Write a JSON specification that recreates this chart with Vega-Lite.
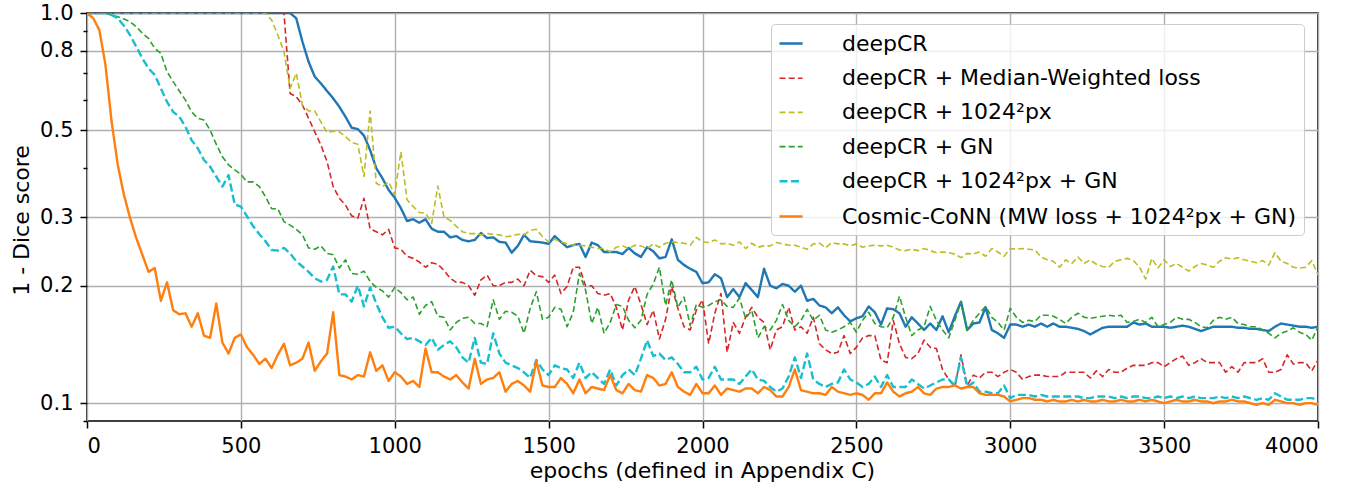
{
  "$schema": "https://vega.github.io/schema/vega-lite/v6.json",
  "width": 1231,
  "height": 408,
  "autosize": {"type": "none"},
  "padding": {"left": 87, "top": 13, "right": 42, "bottom": 62},
  "background": "white",
  "config": {
    "font": "DejaVu Sans",
    "view": {"stroke": "black", "strokeWidth": 1.6},
    "axis": {
      "labelFont": "DejaVu Sans", "labelFontSize": 21, "labelColor": "black",
      "titleFont": "DejaVu Sans", "titleFontSize": 22, "titleFontWeight": "normal", "titleColor": "black",
      "gridColor": "#b0b0b0", "gridWidth": 1.4, "domain": false,
      "tickColor": "black", "tickWidth": 1.5, "tickSize": 7, "labelPadding": 7
    }
  },
  "data": {"values": [
    {"epoch":0,"a":1,"b":1,"c":1,"d":1,"e":1,"f":1},
    {"epoch":20,"a":1,"b":1,"c":1,"d":1,"e":1,"f":0.97},
    {"epoch":40,"a":1,"b":1,"c":1,"d":1,"e":1,"f":0.905},
    {"epoch":60,"a":1,"b":1,"c":1,"d":1,"e":1,"f":0.736},
    {"epoch":80,"a":1,"b":1,"c":1,"d":0.988,"e":0.988,"f":0.526},
    {"epoch":100,"a":1,"b":1,"c":1,"d":0.978,"e":0.969,"f":0.408},
    {"epoch":120,"a":1,"b":1,"c":1,"d":0.965,"e":0.928,"f":0.342},
    {"epoch":140,"a":1,"b":1,"c":1,"d":0.95,"e":0.878,"f":0.298},
    {"epoch":160,"a":1,"b":1,"c":1,"d":0.922,"e":0.82,"f":0.265},
    {"epoch":180,"a":1,"b":1,"c":1,"d":0.887,"e":0.765,"f":0.24},
    {"epoch":200,"a":1,"b":1,"c":1,"d":0.861,"e":0.721,"f":0.217},
    {"epoch":220,"a":1,"b":1,"c":1,"d":0.812,"e":0.694,"f":0.222},
    {"epoch":240,"a":1,"b":1,"c":1,"d":0.788,"e":0.641,"f":0.183},
    {"epoch":260,"a":1,"b":1,"c":1,"d":0.707,"e":0.592,"f":0.204},
    {"epoch":280,"a":1,"b":1,"c":1,"d":0.667,"e":0.558,"f":0.173},
    {"epoch":300,"a":1,"b":1,"c":1,"d":0.631,"e":0.542,"f":0.169},
    {"epoch":320,"a":1,"b":1,"c":1,"d":0.598,"e":0.511,"f":0.17},
    {"epoch":340,"a":1,"b":1,"c":1,"d":0.558,"e":0.472,"f":0.157},
    {"epoch":360,"a":1,"b":1,"c":1,"d":0.537,"e":0.45,"f":0.17},
    {"epoch":380,"a":1,"b":1,"c":1,"d":0.532,"e":0.42,"f":0.149},
    {"epoch":400,"a":1,"b":1,"c":1,"d":0.501,"e":0.404,"f":0.147},
    {"epoch":420,"a":1,"b":1,"c":1,"d":0.461,"e":0.381,"f":0.18},
    {"epoch":440,"a":1,"b":1,"c":1,"d":0.428,"e":0.359,"f":0.143},
    {"epoch":460,"a":1,"b":1,"c":1,"d":0.408,"e":0.384,"f":0.134},
    {"epoch":480,"a":1,"b":1,"c":1,"d":0.396,"e":0.323,"f":0.147},
    {"epoch":500,"a":1,"b":1,"c":1,"d":0.386,"e":0.319,"f":0.15},
    {"epoch":520,"a":1,"b":1,"c":1,"d":0.369,"e":0.301,"f":0.139},
    {"epoch":540,"a":1,"b":1,"c":1,"d":0.369,"e":0.284,"f":0.133},
    {"epoch":560,"a":1,"b":1,"c":1,"d":0.359,"e":0.271,"f":0.126},
    {"epoch":580,"a":1,"b":1,"c":1,"d":0.338,"e":0.26,"f":0.13},
    {"epoch":600,"a":1,"b":1,"c":0.959,"d":0.315,"e":0.247,"f":0.123},
    {"epoch":620,"a":1,"b":1,"c":0.878,"d":0.315,"e":0.246,"f":0.133},
    {"epoch":640,"a":1,"b":1,"c":0.796,"d":0.292,"e":0.25,"f":0.142},
    {"epoch":660,"a":1,"b":0.622,"c":0.641,"d":0.286,"e":0.242,"f":0.125},
    {"epoch":680,"a":0.969,"b":0.61,"c":0.701,"d":0.279,"e":0.231,"f":0.127},
    {"epoch":700,"a":0.844,"b":0.581,"c":0.581,"d":0.27,"e":0.224,"f":0.13},
    {"epoch":720,"a":0.75,"b":0.537,"c":0.561,"d":0.25,"e":0.217,"f":0.143},
    {"epoch":740,"a":0.687,"b":0.496,"c":0.561,"d":0.248,"e":0.209,"f":0.121},
    {"epoch":760,"a":0.66,"b":0.459,"c":0.526,"d":0.253,"e":0.205,"f":0.128},
    {"epoch":780,"a":0.631,"b":0.416,"c":0.494,"d":0.242,"e":0.207,"f":0.134},
    {"epoch":800,"a":0.604,"b":0.359,"c":0.498,"d":0.24,"e":0.224,"f":0.171},
    {"epoch":820,"a":0.575,"b":0.335,"c":0.496,"d":0.222,"e":0.19,"f":0.118},
    {"epoch":840,"a":0.542,"b":0.322,"c":0.482,"d":0.233,"e":0.19,"f":0.117},
    {"epoch":860,"a":0.508,"b":0.302,"c":0.466,"d":0.215,"e":0.182,"f":0.115},
    {"epoch":880,"a":0.504,"b":0.298,"c":0.461,"d":0.214,"e":0.2,"f":0.118},
    {"epoch":900,"a":0.485,"b":0.335,"c":0.381,"d":0.218,"e":0.177,"f":0.117},
    {"epoch":920,"a":0.445,"b":0.28,"c":0.561,"d":0.205,"e":0.198,"f":0.135},
    {"epoch":940,"a":0.4,"b":0.275,"c":0.366,"d":0.198,"e":0.18,"f":0.121},
    {"epoch":960,"a":0.377,"b":0.27,"c":0.359,"d":0.194,"e":0.166,"f":0.125},
    {"epoch":980,"a":0.352,"b":0.279,"c":0.369,"d":0.187,"e":0.156,"f":0.114},
    {"epoch":1000,"a":0.336,"b":0.25,"c":0.343,"d":0.198,"e":0.157,"f":0.12},
    {"epoch":1020,"a":0.316,"b":0.248,"c":0.441,"d":0.192,"e":0.151,"f":0.117},
    {"epoch":1040,"a":0.293,"b":0.238,"c":0.332,"d":0.184,"e":0.146,"f":0.112},
    {"epoch":1060,"a":0.296,"b":0.235,"c":0.319,"d":0.187,"e":0.147,"f":0.114},
    {"epoch":1080,"a":0.29,"b":0.23,"c":0.308,"d":0.169,"e":0.144,"f":0.11},
    {"epoch":1100,"a":0.296,"b":0.223,"c":0.307,"d":0.178,"e":0.141,"f":0.138},
    {"epoch":1120,"a":0.28,"b":0.229,"c":0.289,"d":0.182,"e":0.147,"f":0.12},
    {"epoch":1140,"a":0.275,"b":0.227,"c":0.36,"d":0.167,"e":0.137,"f":0.12},
    {"epoch":1160,"a":0.275,"b":0.219,"c":0.3,"d":0.166,"e":0.141,"f":0.117},
    {"epoch":1180,"a":0.266,"b":0.209,"c":0.294,"d":0.154,"e":0.144,"f":0.115},
    {"epoch":1200,"a":0.268,"b":0.204,"c":0.284,"d":0.161,"e":0.139,"f":0.118},
    {"epoch":1220,"a":0.262,"b":0.204,"c":0.275,"d":0.165,"e":0.131,"f":0.113},
    {"epoch":1240,"a":0.26,"b":0.2,"c":0.272,"d":0.166,"e":0.127,"f":0.109},
    {"epoch":1260,"a":0.262,"b":0.189,"c":0.272,"d":0.16,"e":0.147,"f":0.13},
    {"epoch":1280,"a":0.273,"b":0.207,"c":0.27,"d":0.16,"e":0.127,"f":0.112},
    {"epoch":1300,"a":0.265,"b":0.213,"c":0.272,"d":0.157,"e":0.126,"f":0.115},
    {"epoch":1320,"a":0.266,"b":0.2,"c":0.271,"d":0.184,"e":0.151,"f":0.116},
    {"epoch":1340,"a":0.259,"b":0.2,"c":0.27,"d":0.164,"e":0.134,"f":0.12},
    {"epoch":1360,"a":0.258,"b":0.204,"c":0.267,"d":0.172,"e":0.127,"f":0.107},
    {"epoch":1380,"a":0.243,"b":0.204,"c":0.268,"d":0.171,"e":0.125,"f":0.112},
    {"epoch":1400,"a":0.253,"b":0.208,"c":0.271,"d":0.167,"e":0.123,"f":0.114},
    {"epoch":1420,"a":0.27,"b":0.2,"c":0.27,"d":0.151,"e":0.12,"f":0.111},
    {"epoch":1440,"a":0.26,"b":0.219,"c":0.277,"d":0.175,"e":0.116,"f":0.107},
    {"epoch":1460,"a":0.259,"b":0.212,"c":0.279,"d":0.193,"e":0.129,"f":0.128},
    {"epoch":1480,"a":0.258,"b":0.211,"c":0.267,"d":0.164,"e":0.122,"f":0.111},
    {"epoch":1500,"a":0.256,"b":0.204,"c":0.259,"d":0.166,"e":0.118,"f":0.11},
    {"epoch":1520,"a":0.268,"b":0.213,"c":0.263,"d":0.176,"e":0.125,"f":0.11},
    {"epoch":1540,"a":0.259,"b":0.191,"c":0.259,"d":0.174,"e":0.123,"f":0.116},
    {"epoch":1560,"a":0.251,"b":0.199,"c":0.256,"d":0.157,"e":0.122,"f":0.112},
    {"epoch":1580,"a":0.254,"b":0.223,"c":0.254,"d":0.171,"e":0.116,"f":0.106},
    {"epoch":1600,"a":0.256,"b":0.223,"c":0.254,"d":0.215,"e":0.127,"f":0.115},
    {"epoch":1620,"a":0.237,"b":0.2,"c":0.253,"d":0.195,"e":0.116,"f":0.106},
    {"epoch":1640,"a":0.258,"b":0.2,"c":0.251,"d":0.16,"e":0.12,"f":0.11},
    {"epoch":1660,"a":0.254,"b":0.191,"c":0.249,"d":0.176,"e":0.116,"f":0.109},
    {"epoch":1680,"a":0.244,"b":0.189,"c":0.249,"d":0.151,"e":0.112,"f":0.108},
    {"epoch":1700,"a":0.244,"b":0.191,"c":0.244,"d":0.161,"e":0.122,"f":0.118},
    {"epoch":1720,"a":0.244,"b":0.176,"c":0.251,"d":0.179,"e":0.111,"f":0.108},
    {"epoch":1740,"a":0.241,"b":0.154,"c":0.253,"d":0.177,"e":0.118,"f":0.106},
    {"epoch":1760,"a":0.25,"b":0.184,"c":0.249,"d":0.163,"e":0.122,"f":0.112},
    {"epoch":1780,"a":0.242,"b":0.199,"c":0.254,"d":0.156,"e":0.118,"f":0.108},
    {"epoch":1800,"a":0.237,"b":0.179,"c":0.253,"d":0.163,"e":0.13,"f":0.107},
    {"epoch":1820,"a":0.251,"b":0.159,"c":0.249,"d":0.19,"e":0.145,"f":0.118},
    {"epoch":1840,"a":0.245,"b":0.173,"c":0.256,"d":0.202,"e":0.132,"f":0.116},
    {"epoch":1860,"a":0.235,"b":0.146,"c":0.251,"d":0.223,"e":0.134,"f":0.111},
    {"epoch":1880,"a":0.237,"b":0.164,"c":0.257,"d":0.178,"e":0.129,"f":0.112},
    {"epoch":1900,"a":0.263,"b":0.199,"c":0.259,"d":0.207,"e":0.131,"f":0.12},
    {"epoch":1920,"a":0.233,"b":0.175,"c":0.258,"d":0.176,"e":0.126,"f":0.11},
    {"epoch":1940,"a":0.226,"b":0.157,"c":0.257,"d":0.187,"e":0.12,"f":0.107},
    {"epoch":1960,"a":0.221,"b":0.154,"c":0.254,"d":0.158,"e":0.12,"f":0.105},
    {"epoch":1980,"a":0.217,"b":0.173,"c":0.266,"d":0.179,"e":0.124,"f":0.112},
    {"epoch":2000,"a":0.203,"b":0.184,"c":0.259,"d":0.176,"e":0.115,"f":0.106},
    {"epoch":2020,"a":0.204,"b":0.142,"c":0.258,"d":0.178,"e":0.116,"f":0.106},
    {"epoch":2040,"a":0.214,"b":0.17,"c":0.262,"d":0.182,"e":0.124,"f":0.111},
    {"epoch":2060,"a":0.209,"b":0.191,"c":0.256,"d":0.184,"e":0.115,"f":0.105},
    {"epoch":2080,"a":0.187,"b":0.135,"c":0.257,"d":0.177,"e":0.115,"f":0.109},
    {"epoch":2100,"a":0.196,"b":0.161,"c":0.254,"d":0.176,"e":0.115,"f":0.108},
    {"epoch":2120,"a":0.187,"b":0.151,"c":0.259,"d":0.186,"e":0.112,"f":0.107},
    {"epoch":2140,"a":0.203,"b":0.166,"c":0.249,"d":0.165,"e":0.117,"f":0.109},
    {"epoch":2160,"a":0.195,"b":0.176,"c":0.257,"d":0.173,"e":0.122,"f":0.109},
    {"epoch":2180,"a":0.187,"b":0.166,"c":0.251,"d":0.147,"e":0.115,"f":0.106},
    {"epoch":2200,"a":0.221,"b":0.161,"c":0.253,"d":0.157,"e":0.114,"f":0.11},
    {"epoch":2220,"a":0.2,"b":0.137,"c":0.253,"d":0.154,"e":0.11,"f":0.108},
    {"epoch":2240,"a":0.197,"b":0.154,"c":0.258,"d":0.163,"e":0.107,"f":0.104},
    {"epoch":2260,"a":0.202,"b":0.157,"c":0.256,"d":0.179,"e":0.109,"f":0.104},
    {"epoch":2280,"a":0.2,"b":0.176,"c":0.254,"d":0.163,"e":0.117,"f":0.11},
    {"epoch":2300,"a":0.193,"b":0.154,"c":0.254,"d":0.157,"e":0.131,"f":0.122},
    {"epoch":2320,"a":0.2,"b":0.157,"c":0.251,"d":0.163,"e":0.116,"f":0.108},
    {"epoch":2340,"a":0.183,"b":0.151,"c":0.248,"d":0.174,"e":0.134,"f":0.107},
    {"epoch":2360,"a":0.185,"b":0.166,"c":0.256,"d":0.163,"e":0.115,"f":0.106},
    {"epoch":2380,"a":0.178,"b":0.142,"c":0.257,"d":0.168,"e":0.112,"f":0.106},
    {"epoch":2400,"a":0.176,"b":0.137,"c":0.25,"d":0.154,"e":0.11,"f":0.105},
    {"epoch":2420,"a":0.17,"b":0.134,"c":0.258,"d":0.152,"e":0.112,"f":0.11},
    {"epoch":2440,"a":0.176,"b":0.135,"c":0.256,"d":0.154,"e":0.113,"f":0.107},
    {"epoch":2460,"a":0.168,"b":0.149,"c":0.256,"d":0.157,"e":0.122,"f":0.106},
    {"epoch":2480,"a":0.162,"b":0.134,"c":0.253,"d":0.161,"e":0.115,"f":0.105},
    {"epoch":2500,"a":0.165,"b":0.139,"c":0.256,"d":0.152,"e":0.113,"f":0.106},
    {"epoch":2520,"a":0.167,"b":0.147,"c":0.251,"d":0.163,"e":0.11,"f":0.105},
    {"epoch":2540,"a":0.177,"b":0.149,"c":0.253,"d":0.171,"e":0.112,"f":0.102},
    {"epoch":2560,"a":0.171,"b":0.149,"c":0.254,"d":0.16,"e":0.117,"f":0.106},
    {"epoch":2580,"a":0.159,"b":0.129,"c":0.253,"d":0.157,"e":0.11,"f":0.106},
    {"epoch":2600,"a":0.175,"b":0.127,"c":0.254,"d":0.156,"e":0.118,"f":0.113},
    {"epoch":2620,"a":0.174,"b":0.163,"c":0.251,"d":0.166,"e":0.11,"f":0.107},
    {"epoch":2640,"a":0.17,"b":0.142,"c":0.247,"d":0.188,"e":0.11,"f":0.104},
    {"epoch":2660,"a":0.157,"b":0.131,"c":0.246,"d":0.166,"e":0.11,"f":0.106},
    {"epoch":2680,"a":0.166,"b":0.13,"c":0.248,"d":0.149,"e":0.115,"f":0.107},
    {"epoch":2700,"a":0.16,"b":0.134,"c":0.246,"d":0.154,"e":0.112,"f":0.11},
    {"epoch":2720,"a":0.154,"b":0.145,"c":0.249,"d":0.157,"e":0.109,"f":0.106},
    {"epoch":2740,"a":0.16,"b":0.139,"c":0.246,"d":0.177,"e":0.111,"f":0.105},
    {"epoch":2760,"a":0.154,"b":0.138,"c":0.243,"d":0.163,"e":0.113,"f":0.109},
    {"epoch":2780,"a":0.167,"b":0.122,"c":0.244,"d":0.154,"e":0.115,"f":0.11},
    {"epoch":2800,"a":0.152,"b":0.115,"c":0.243,"d":0.147,"e":0.115,"f":0.11},
    {"epoch":2820,"a":0.167,"b":0.11,"c":0.241,"d":0.163,"e":0.111,"f":0.111},
    {"epoch":2840,"a":0.182,"b":0.133,"c":0.236,"d":0.182,"e":0.131,"f":0.109},
    {"epoch":2860,"a":0.154,"b":0.111,"c":0.242,"d":0.154,"e":0.11,"f":0.11},
    {"epoch":2880,"a":0.16,"b":0.118,"c":0.241,"d":0.163,"e":0.113,"f":0.11},
    {"epoch":2900,"a":0.161,"b":0.116,"c":0.244,"d":0.17,"e":0.107,"f":0.106},
    {"epoch":2920,"a":0.176,"b":0.12,"c":0.238,"d":0.177,"e":0.107,"f":0.105},
    {"epoch":2940,"a":0.154,"b":0.12,"c":0.249,"d":0.166,"e":0.106,"f":0.105},
    {"epoch":2960,"a":0.151,"b":0.117,"c":0.244,"d":0.161,"e":0.106,"f":0.105},
    {"epoch":2980,"a":0.147,"b":0.12,"c":0.238,"d":0.154,"e":0.111,"f":0.104},
    {"epoch":3000,"a":0.159,"b":0.122,"c":0.249,"d":0.175,"e":0.103,"f":0.101},
    {"epoch":3020,"a":0.159,"b":0.12,"c":0.248,"d":0.166,"e":0.105,"f":0.102},
    {"epoch":3040,"a":0.157,"b":0.115,"c":0.249,"d":0.161,"e":0.105,"f":0.103},
    {"epoch":3060,"a":0.159,"b":0.117,"c":0.248,"d":0.163,"e":0.105,"f":0.103},
    {"epoch":3080,"a":0.157,"b":0.118,"c":0.247,"d":0.162,"e":0.104,"f":0.102},
    {"epoch":3100,"a":0.16,"b":0.118,"c":0.237,"d":0.168,"e":0.105,"f":0.102},
    {"epoch":3120,"a":0.157,"b":0.117,"c":0.233,"d":0.168,"e":0.104,"f":0.101},
    {"epoch":3140,"a":0.16,"b":0.117,"c":0.231,"d":0.167,"e":0.104,"f":0.102},
    {"epoch":3160,"a":0.157,"b":0.117,"c":0.223,"d":0.164,"e":0.104,"f":0.101},
    {"epoch":3180,"a":0.157,"b":0.12,"c":0.233,"d":0.16,"e":0.104,"f":0.101},
    {"epoch":3200,"a":0.156,"b":0.12,"c":0.228,"d":0.166,"e":0.104,"f":0.102},
    {"epoch":3220,"a":0.155,"b":0.12,"c":0.237,"d":0.17,"e":0.104,"f":0.101},
    {"epoch":3240,"a":0.153,"b":0.12,"c":0.228,"d":0.166,"e":0.103,"f":0.102},
    {"epoch":3260,"a":0.15,"b":0.116,"c":0.233,"d":0.165,"e":0.103,"f":0.101},
    {"epoch":3280,"a":0.153,"b":0.121,"c":0.227,"d":0.166,"e":0.104,"f":0.101},
    {"epoch":3300,"a":0.156,"b":0.117,"c":0.224,"d":0.167,"e":0.104,"f":0.102},
    {"epoch":3320,"a":0.157,"b":0.122,"c":0.223,"d":0.168,"e":0.104,"f":0.101},
    {"epoch":3340,"a":0.157,"b":0.12,"c":0.231,"d":0.167,"e":0.103,"f":0.101},
    {"epoch":3360,"a":0.157,"b":0.12,"c":0.233,"d":0.168,"e":0.104,"f":0.102},
    {"epoch":3380,"a":0.157,"b":0.123,"c":0.235,"d":0.161,"e":0.103,"f":0.101},
    {"epoch":3400,"a":0.161,"b":0.125,"c":0.232,"d":0.162,"e":0.104,"f":0.101},
    {"epoch":3420,"a":0.159,"b":0.125,"c":0.223,"d":0.164,"e":0.104,"f":0.102},
    {"epoch":3440,"a":0.16,"b":0.125,"c":0.208,"d":0.161,"e":0.103,"f":0.101},
    {"epoch":3460,"a":0.157,"b":0.127,"c":0.235,"d":0.166,"e":0.103,"f":0.102},
    {"epoch":3480,"a":0.157,"b":0.127,"c":0.222,"d":0.157,"e":0.104,"f":0.101},
    {"epoch":3500,"a":0.157,"b":0.124,"c":0.233,"d":0.159,"e":0.103,"f":0.1},
    {"epoch":3520,"a":0.156,"b":0.127,"c":0.224,"d":0.161,"e":0.104,"f":0.101},
    {"epoch":3540,"a":0.157,"b":0.13,"c":0.228,"d":0.166,"e":0.103,"f":0.102},
    {"epoch":3560,"a":0.158,"b":0.132,"c":0.223,"d":0.164,"e":0.104,"f":0.101},
    {"epoch":3580,"a":0.157,"b":0.125,"c":0.218,"d":0.164,"e":0.103,"f":0.101},
    {"epoch":3600,"a":0.155,"b":0.127,"c":0.224,"d":0.161,"e":0.104,"f":0.102},
    {"epoch":3620,"a":0.153,"b":0.13,"c":0.228,"d":0.157,"e":0.103,"f":0.101},
    {"epoch":3640,"a":0.155,"b":0.127,"c":0.226,"d":0.156,"e":0.103,"f":0.101},
    {"epoch":3660,"a":0.157,"b":0.127,"c":0.223,"d":0.163,"e":0.103,"f":0.1},
    {"epoch":3680,"a":0.157,"b":0.127,"c":0.231,"d":0.166,"e":0.104,"f":0.101},
    {"epoch":3700,"a":0.157,"b":0.12,"c":0.236,"d":0.164,"e":0.103,"f":0.101},
    {"epoch":3720,"a":0.157,"b":0.124,"c":0.234,"d":0.166,"e":0.104,"f":0.102},
    {"epoch":3740,"a":0.156,"b":0.12,"c":0.236,"d":0.16,"e":0.103,"f":0.101},
    {"epoch":3760,"a":0.156,"b":0.127,"c":0.233,"d":0.159,"e":0.104,"f":0.101},
    {"epoch":3780,"a":0.155,"b":0.127,"c":0.231,"d":0.157,"e":0.103,"f":0.1},
    {"epoch":3800,"a":0.155,"b":0.127,"c":0.229,"d":0.157,"e":0.102,"f":0.099},
    {"epoch":3820,"a":0.154,"b":0.13,"c":0.232,"d":0.154,"e":0.103,"f":0.1},
    {"epoch":3840,"a":0.153,"b":0.12,"c":0.226,"d":0.151,"e":0.102,"f":0.099},
    {"epoch":3860,"a":0.157,"b":0.12,"c":0.243,"d":0.147,"e":0.106,"f":0.102},
    {"epoch":3880,"a":0.16,"b":0.122,"c":0.231,"d":0.151,"e":0.104,"f":0.101},
    {"epoch":3900,"a":0.159,"b":0.133,"c":0.228,"d":0.153,"e":0.102,"f":0.1},
    {"epoch":3920,"a":0.158,"b":0.126,"c":0.223,"d":0.156,"e":0.102,"f":0.1},
    {"epoch":3940,"a":0.157,"b":0.127,"c":0.222,"d":0.152,"e":0.102,"f":0.099},
    {"epoch":3960,"a":0.157,"b":0.127,"c":0.223,"d":0.15,"e":0.103,"f":0.1},
    {"epoch":3980,"a":0.156,"b":0.121,"c":0.232,"d":0.145,"e":0.103,"f":0.1},
    {"epoch":4000,"a":0.157,"b":0.129,"c":0.213,"d":0.157,"e":0.102,"f":0.099}
  ]},
  "transform": [{"fold": ["a", "b", "c", "d", "e", "f"], "as": ["series", "value"]}],
  "mark": {"type": "line", "clip": true, "strokeJoin": "round"},
  "encoding": {
    "x": {
      "field": "epoch", "type": "quantitative",
      "scale": {"domain": [0, 4000], "nice": false},
      "axis": {
        "values": [0, 500, 1000, 1500, 2000, 2500, 3000, 3500, 4000],
        "format": "d",
        "title": "epochs (defined in Appendix C)",
        "titleX": 615, "titleY": 49, "titleBaseline": "middle", "titleAlign": "center",
        "labelPadding": 7
      }
    },
    "y": {
      "field": "value", "type": "quantitative",
      "scale": {"type": "log", "domain": [0.09, 1.0], "nice": false},
      "axis": {
        "values": [0.09, 0.1, 0.2, 0.3, 0.4, 0.5, 0.6, 0.7, 0.8, 0.9, 1.0],
        "format": ".1f",
        "labelExpr": "indexof([0.1,0.2,0.3,0.5,0.8,1], datum.value) >= 0 ? datum.label : ''",
        "gridOpacity": {"condition": {"test": "indexof([0.1,0.2,0.3,0.5,0.8,1], datum.value) >= 0", "value": 1}, "value": 0},
        "tickSize": {"condition": {"test": "indexof([0.1,0.2,0.3,0.5,0.8,1], datum.value) >= 0", "value": 7}, "value": 4},
        "labelPadding": 7,
        "title": "1 - Dice score",
        "titleX": -66, "titleY": 207, "titleAngle": -90, "titleAlign": "center", "titleBaseline": "middle"
      }
    },
    "color": {
      "field": "series", "type": "nominal",
      "scale": {"domain": ["a", "b", "c", "d", "e", "f"], "range": ["#1f77b4", "#d62728", "#bcbd22", "#2ca02c", "#17becf", "#ff7f0e"]},
      "legend": {
        "orient": "none", "legendX": 684, "legendY": 11, "title": null,
        "labelFont": "DejaVu Sans", "labelFontSize": 22, "labelColor": "black", "labelLimit": 700,
        "symbolType": "M-1,0H1.1", "symbolSize": 484, "labelOffset": 39,
        "rowPadding": 11.2, "padding": 7,
        "fillColor": "rgba(255,255,255,0.8)", "strokeColor": "#cccccc", "cornerRadius": 4,
        "labelExpr": "datum.label == 'a' ? 'deepCR' : datum.label == 'b' ? 'deepCR + Median-Weighted loss' : datum.label == 'c' ? 'deepCR + 1024²px' : datum.label == 'd' ? 'deepCR + GN' : datum.label == 'e' ? 'deepCR + 1024²px + GN' : 'Cosmic-CoNN (MW loss + 1024²px + GN)'"
      }
    },
    "strokeDash": {
      "field": "series", "type": "nominal",
      "scale": {"domain": ["a", "b", "c", "d", "e", "f"], "range": [[1, 0], [6, 3.2], [6, 3.2], [6, 3.2], [8, 3.5], [1, 0]]}
    },
    "strokeWidth": {
      "field": "series", "type": "nominal",
      "scale": {"type": "ordinal", "domain": ["a", "b", "c", "d", "e", "f"], "range": [2.4, 1.6, 1.6, 1.6, 2.4, 2.4]}
    }
  }
}
